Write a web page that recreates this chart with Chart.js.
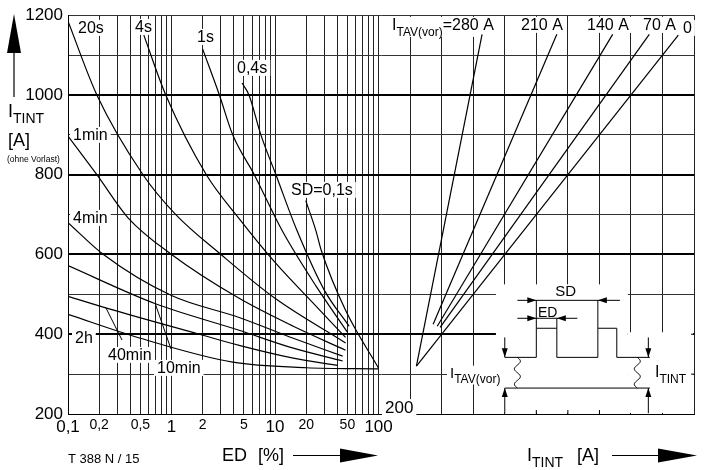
<!DOCTYPE html>
<html>
<head>
<meta charset="utf-8">
<script src="https://cdn.jsdelivr.net/npm/chart.js@4.4.1/dist/chart.umd.min.js"></script>
<style>
  html, body { margin: 0; padding: 0; background: #fff; }
  #wrap { width: 716px; height: 470px; }
</style>
</head>
<body>
<div id="wrap"><canvas id="chart" width="716" height="470"></canvas></div>
<script>
// ---------------- Achsen / Ticks ----------------
const edGrid = [0.1,0.2,0.3,0.4,0.5,0.6,0.7,0.8,0.9,1,2,3,4,5,6,7,8,9,10,20,30,40,50,60,70,80,90,100];
const edTickValues = [0.1,0.2,0.5,1,2,5,10,20,50,100];
const edTickLabels = ['0,1','0,2','0,5','1','2','5','10','20','50','100'];
const edMajorTicks = [0.1,1,10,100];
const iGrid = [300,400,500,600,700,800,900,1000,1100,1200];
const iTickValues = [400,600,800,1000,1200];
const yTickValues = [200,400,600,800,1000,1200];
const yHeavyLines = [400,600,800,1000];

// ---------------- linkes Feld: I_TINT ueber ED, Parameter SD [ED %, A] ----------------
const curve01s   = [[19.8,735],[24.8,660],[28,610],[48,460],[100,315]];
const curve04s   = [[4.8,1030],[5.6,1000],[7.3,900],[10.2,800],[16.3,660],[30,510],[52,420]];
const curve1s    = [[2.0,1115],[2.9,1000],[3.9,900],[6.3,800],[11.7,660],[25,520],[50,405]];
const curve4s    = [[0.54,1150],[0.88,1000],[2.17,800],[4.5,690],[10,580],[25,470],[48,392]];
const curve20s   = [[0.1,1185],[0.19,1000],[0.53,800],[1.1,700],[3.0,600],[10,490],[48,378]];
const curve1min  = [[0.1,897],[0.19,800],[0.38,692],[1.0,600],[4.5,490],[15,420],[48,360]];
const curve4min  = [[0.1,680],[0.22,600],[1.0,497],[4.5,442],[15,390],[45,345]];
const curve10min = [[0.1,572],[0.69,477],[4.5,410],[15,365],[45,333]];
const curve40min = [[0.1,495],[0.24,465],[1.86,400],[4.5,372],[15,340],[40,322]];
const curve2h    = [[0.1,450],[0.5,390],[3.9,330],[20,316],[100,313]];

// ---------------- rechtes Feld: Umrechnung mit Vorlast I_TAV(vor) [I_TINT A, I_TINT ohne Vorlast A] ----------------
const line280 = [[320,320],[528,1152]];
const line210 = [[373,425],[765,1152]];
const line140 = [[386,420],[942,1152]];
const line70  = [[395,417],[1058,1152]];
const line0   = [[320,320],[1150,1150]];

// Breitenanteil des ED-Feldes -> beide x-Achsen teilen sich die Zeichenflaeche
const LEFT_FRAC = 312 / 629;
const ED_AXIS_MAX = 0.1 * Math.pow(10, 3 / LEFT_FRAC);
const I_AXIS_MIN = 1200 - 1000 / (1 - LEFT_FRAC);

const FONT = '"Liberation Sans", Arial, Helvetica, sans-serif';

function toXY(pts) {
    return pts.map(p => ({ x: p[0], y: p[1] }));
}

function curveSet(pts) {
    return {
        data: toXY(pts), xAxisID: 'x', yAxisID: 'y',
        borderColor: '#000', borderWidth: 1.2, pointRadius: 0,
        fill: false, cubicInterpolationMode: 'monotone'
    };
}

function lineSet(pts) {
    return {
        data: toXY(pts), xAxisID: 'x2', yAxisID: 'y',
        borderColor: '#000', borderWidth: 1.2, pointRadius: 0,
        fill: false, tension: 0
    };
}

// ---------------- Zeichenhilfen ----------------
function setFont(ctx, size) {
    ctx.font = size + 'px ' + FONT;
}

function text(ctx, s, x, y, size, align) {
    setFont(ctx, size);
    ctx.textAlign = align || 'left';
    ctx.textBaseline = 'alphabetic';
    ctx.fillStyle = '#000';
    ctx.fillText(s, x, y);
}

// Text mit weissem Hintergrund (unterbricht das Raster)
function boxText(ctx, s, x, y, size) {
    setFont(ctx, size);
    const w = ctx.measureText(s).width;
    ctx.fillStyle = '#fff';
    ctx.fillRect(x - 3, y - size * 0.82, w + 6, size * 1.0);
    text(ctx, s, x, y, size);
}

// I mit Index, optional weisser Hintergrund
function subText(ctx, main, sub, rest, x, y, size, subSize, box) {
    setFont(ctx, size);
    const w1 = ctx.measureText(main).width;
    const w3 = rest ? ctx.measureText(rest).width : 0;
    setFont(ctx, subSize);
    const w2 = ctx.measureText(sub).width;
    if (box) {
        ctx.fillStyle = '#fff';
        ctx.fillRect(x - 3, y - size * 0.82, w1 + w2 + w3 + 6, size * 1.25);
    }
    text(ctx, main, x, y, size);
    text(ctx, sub, x + w1, y + size * 0.35, subSize);
    if (rest) text(ctx, rest, x + w1 + w2, y, size);
}

function seg(ctx, x1, y1, x2, y2, w) {
    ctx.beginPath();
    ctx.lineWidth = w || 1;
    ctx.strokeStyle = '#000';
    ctx.moveTo(x1, y1);
    ctx.lineTo(x2, y2);
    ctx.stroke();
}

function tri(ctx, ax, ay, bx, by, cx, cy) {
    ctx.beginPath();
    ctx.fillStyle = '#000';
    ctx.moveTo(ax, ay);
    ctx.lineTo(bx, by);
    ctx.lineTo(cx, cy);
    ctx.closePath();
    ctx.fill();
}

// Pfeilspitze mit Spitze bei (x,y), Richtung dx/dy
function head(ctx, x, y, dx, dy, len, half) {
    const bx = x - dx * len, by = y - dy * len;
    tri(ctx, x, y, bx - dy * half, by + dx * half, bx + dy * half, by - dx * half);
}

function wave(ctx, x, yTop, yBot) {
    ctx.beginPath();
    ctx.lineWidth = 1;
    ctx.strokeStyle = '#000';
    const n = 40;
    for (let i = 0; i <= n; i++) {
        const t = i / n;
        const yy = yTop + (yBot - yTop) * t;
        const xx = x + 3 * Math.sin(t * Math.PI * 4);
        if (i === 0) ctx.moveTo(xx, yy); else ctx.lineTo(xx, yy);
    }
    ctx.stroke();
}

// ---------------- Beschriftungen im Diagramm + Prinzipskizze ----------------
const labelsPlugin = {
    id: 'labelsPlugin',
    beforeDatasetsDraw(chart) {
        const ctx = chart.ctx;
        const sx = chart.scales.x2, sy = chart.scales.y;
        const X = v => sx.getPixelForValue(v);
        const Y = v => sy.getPixelForValue(v);
        ctx.save();

        // Kurvenbezeichnungen links
        boxText(ctx, '20s', 78, 33, 16);
        boxText(ctx, '4s', 135, 32, 16);
        boxText(ctx, '1s', 197, 42, 16);
        boxText(ctx, '0,4s', 237, 73, 16);
        boxText(ctx, 'SD=0,1s', 291, 195, 16);
        boxText(ctx, '1min', 73, 140, 16);
        boxText(ctx, '4min', 73, 223, 16);
        boxText(ctx, '2h', 75, 343, 16);
        boxText(ctx, '40min', 108, 360, 16);
        boxText(ctx, '10min', 157, 373, 16);
        seg(ctx, 106, 308, 122, 340);
        seg(ctx, 155, 303, 171, 349);

        // Vorlast-Bezeichnungen oben rechts
        subText(ctx, 'I', 'TAV(vor)', '=280 A', 392, 30, 16, 12, true);
        boxText(ctx, '210 A', 521, 30, 16);
        boxText(ctx, '140 A', 587, 30, 16);
        boxText(ctx, '70 A', 643, 30, 16);
        boxText(ctx, '0', 683, 33, 16);
        boxText(ctx, '200', 385, 413, 17);

        // Prinzipskizze: Raster freistellen
        ctx.fillStyle = '#fff';
        ctx.fillRect(X(572), Y(525), X(990) - X(572), Y(203) - Y(525));
        ctx.fillRect(X(990), Y(405), X(1197) - X(990), Y(203) - Y(405));
        // kleine Randmarken
        [700, 800, 900].forEach(v => seg(ctx, X(v), Y(200), X(v), Y(200) - 4));
        [300, 400].forEach(v => seg(ctx, X(1200), Y(v), X(1200) - 3, Y(v)));

        const base = Y(342), low = Y(265), top = Y(415), edY = Y(440), sdY = Y(485);
        const xl = X(600), p1a = X(700), p1b = X(765), p2a = X(895), p2b = X(955), xr = X(1060);
        // Pulszug
        ctx.beginPath();
        ctx.lineWidth = 1;
        ctx.strokeStyle = '#000';
        ctx.moveTo(xl, base); ctx.lineTo(p1a, base); ctx.lineTo(p1a, top); ctx.lineTo(p1b, top);
        ctx.lineTo(p1b, base); ctx.lineTo(p2a, base); ctx.lineTo(p2a, top); ctx.lineTo(p2b, top);
        ctx.lineTo(p2b, base); ctx.lineTo(xr, base);
        ctx.stroke();
        seg(ctx, xl, low, xr, low);
        seg(ctx, p1a, top, p1a, sdY);
        seg(ctx, p2a, top, p2a, sdY);
        seg(ctx, p1b, top, p1b, edY);
        wave(ctx, X(640), base, low);
        wave(ctx, X(1020), base, low);

        // Masspfeile SD und ED
        seg(ctx, X(640), sdY, X(965), sdY);
        head(ctx, p1a, sdY, 1, 0, 9, 3);
        head(ctx, p2a, sdY, -1, 0, 9, 3);
        seg(ctx, X(640), edY, X(830), edY);
        head(ctx, p1a, edY, 1, 0, 9, 3);
        head(ctx, p1b, edY, -1, 0, 9, 3);
        text(ctx, 'SD', X(793), sdY - 4, 15, 'center');
        text(ctx, 'ED', X(736), edY - 1, 14, 'center');

        // vertikale Pfeile
        [X(600), X(1055)].forEach(ax => {
            seg(ctx, ax, Y(392), ax, base);
            head(ctx, ax, base, 0, 1, 9, 3);
            seg(ctx, ax, Y(202), ax, low);
            head(ctx, ax, low, 0, -1, 9, 3);
        });
        subText(ctx, 'I', 'TAV(vor)', '', 450, 378, 15, 12, true);
        subText(ctx, 'I', 'TINT', '', 655, 377, 16, 12, false);

        ctx.restore();
    },
    afterDraw(chart) {
        const ctx = chart.ctx;
        ctx.save();
        // y-Achsentitel mit Pfeil
        seg(ctx, 14, 97, 14, 50, 1.2);
        tri(ctx, 14, 14, 7, 53, 21, 53);
        subText(ctx, 'I', 'TINT', '', 8, 117, 18, 14, false);
        text(ctx, '[A]', 8, 146, 18);
        text(ctx, '(ohne Vorlast)', 7, 162, 8.5);

        // x-Achsentitel
        text(ctx, 'T 388 N / 15', 68, 463, 13);
        text(ctx, 'ED', 222, 461, 18);
        text(ctx, '[%]', 258, 461, 18);
        seg(ctx, 293, 455.5, 342, 455.5, 1.2);
        tri(ctx, 378, 455.5, 340, 448.5, 340, 462.5);
        subText(ctx, 'I', 'TINT', '', 527, 461, 18, 14, false);
        text(ctx, '[A]', 577, 461, 18);
        seg(ctx, 612, 455.5, 660, 455.5, 1.2);
        tri(ctx, 697, 455.5, 658, 448.5, 658, 462.5);
        ctx.restore();
    }
};

// ---------------- Diagramm ----------------
new Chart(document.getElementById('chart'), {
    type: 'line',
    data: {
        datasets: [
            curveSet(curve01s), curveSet(curve04s), curveSet(curve1s), curveSet(curve4s),
            curveSet(curve20s), curveSet(curve1min), curveSet(curve4min), curveSet(curve10min),
            curveSet(curve40min), curveSet(curve2h),
            lineSet(line280), lineSet(line210), lineSet(line140), lineSet(line70), lineSet(line0)
        ]
    },
    options: {
        responsive: false,
        animation: false,
        events: [],
        layout: { padding: { left: 0, top: 14, right: 19, bottom: 0 } },
        plugins: { legend: { display: false }, tooltip: { enabled: false } },
        scales: {
            x: {
                type: 'logarithmic',
                position: 'bottom',
                weight: 1,
                min: 0.1,
                max: ED_AXIS_MAX,
                afterBuildTicks: (s) => { s.ticks = edGrid.map(v => ({ value: v })); },
                afterFit: (s) => { s.height = 56; },
                grid: { color: '#222', lineWidth: 1, drawTicks: false },
                border: { display: true, color: '#000', width: 1 },
                ticks: {
                    autoSkip: false, maxRotation: 0, minRotation: 0, padding: 3, color: '#000',
                    font: (c) => ({ family: FONT, size: (c.tick && edMajorTicks.includes(c.tick.value)) ? 17 : 14 }),
                    callback: (v) => {
                        const i = edTickValues.indexOf(v);
                        return i >= 0 ? edTickLabels[i] : '';
                    }
                }
            },
            x2: {
                type: 'linear',
                position: 'bottom',
                weight: 0,
                min: I_AXIS_MIN,
                max: 1200,
                afterBuildTicks: (s) => { s.ticks = iGrid.map(v => ({ value: v })); },
                afterFit: (s) => { s.height = 0; },
                grid: { color: '#222', lineWidth: 1, drawTicks: false },
                border: { display: false },
                ticks: {
                    autoSkip: false, maxRotation: 0, minRotation: 0, padding: 3, color: '#000',
                    font: { family: FONT, size: 17 },
                    callback: (v) => iTickValues.includes(v) ? String(v) : ''
                }
            },
            y: {
                type: 'linear',
                min: 200,
                max: 1200,
                afterFit: (s) => { s.width = 68; },
                grid: {
                    drawTicks: false,
                    color: (c) => (c.tick && yHeavyLines.includes(c.tick.value)) ? '#000' : '#333',
                    lineWidth: (c) => (c.tick && yHeavyLines.includes(c.tick.value)) ? 2 : 1
                },
                border: { display: true, color: '#000', width: 1 },
                ticks: {
                    stepSize: 100, padding: 5, color: '#000',
                    font: { family: FONT, size: 17 },
                    callback: (v) => yTickValues.includes(v) ? String(v) : ''
                }
            }
        }
    },
    plugins: [labelsPlugin]
});
</script>
</body>
</html>
